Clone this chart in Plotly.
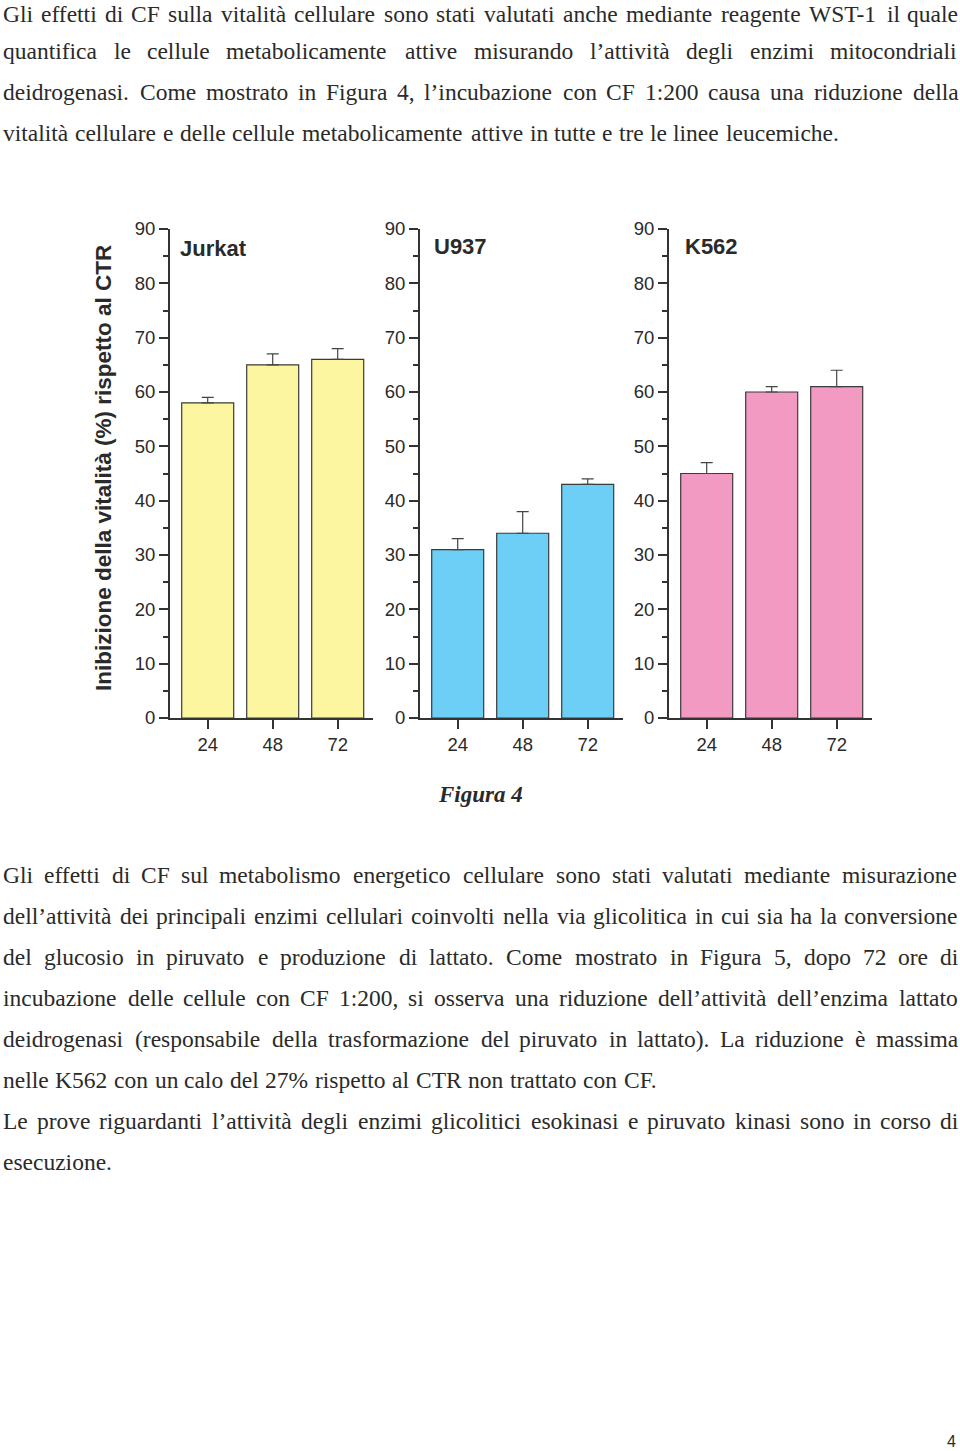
import plotly.graph_objects as go

# ---------------- data ----------------
times = ["24", "48", "72"]
cell_lines = ["Jurkat", "U937", "K562"]
jurkat_vals = [58, 65, 66]
jurkat_err = [1, 2, 2]
u937_vals = [31, 34, 43]
u937_err = [2, 4, 1]
k562_vals = [45, 60, 61]
k562_err = [2, 1, 3]
y_ticks = [0, 10, 20, 30, 40, 50, 60, 70, 80, 90]

para1 = [
    "Gli effetti di CF sulla vitalità cellulare sono stati valutati anche mediante reagente WST-1 il quale",
    "quantifica le cellule metabolicamente attive misurando l’attività degli enzimi mitocondriali",
    "deidrogenasi. Come mostrato in Figura 4, l’incubazione con CF 1:200 causa una riduzione della",
    "vitalità cellulare e delle cellule metabolicamente attive in tutte e tre le linee leucemiche.",
]
para1_justify = [True, True, True, False]
para2 = [
    "Gli effetti di CF sul metabolismo energetico cellulare sono stati valutati mediante misurazione",
    "dell’attività dei principali enzimi cellulari coinvolti nella via glicolitica in cui sia ha la conversione",
    "del glucosio in piruvato e produzione di lattato. Come mostrato in Figura 5, dopo 72 ore di",
    "incubazione delle cellule con CF 1:200, si osserva una riduzione dell’attività dell’enzima lattato",
    "deidrogenasi (responsabile della trasformazione del piruvato in lattato). La riduzione è massima",
    "nelle K562 con un calo del 27% rispetto al CTR non trattato con CF.",
    "Le prove riguardanti l’attività degli enzimi glicolitici esokinasi e piruvato kinasi sono in corso di",
    "esecuzione.",
]
para2_justify = [True, True, True, True, True, False, True, False]

# ---------------- page geometry ----------------
W, H = 960, 1451
def px(x):
    return x / W
def py(y):
    return 1 - y / H

fill_colors = ["#FDF6A0", "#6DCFF5", "#F39AC2"]
edge = "#3a3a3a"
axis_col = "#333333"
text_col = "#2a2a2a"
sans = "Liberation Sans, Arial, Helvetica, sans-serif"
serif = "Liberation Serif, Times New Roman, Times, serif"

fig = go.Figure()

series = [(jurkat_vals, jurkat_err), (u937_vals, u937_err), (k562_vals, k562_err)]
panel_left = [170, 420, 669]
xr = [-0.58, 2.55]
unit = 65.0
y_top, y_bot = 229, 718

for i, (vals, errs) in enumerate(series):
    suffix = "" if i == 0 else str(i + 1)
    fig.add_trace(go.Bar(
        x=[0, 1, 2], y=vals, width=0.8,
        marker=dict(color=fill_colors[i], line=dict(color=edge, width=1.2)),
        error_y=dict(type="data", array=errs, arrayminus=[0, 0, 0], symmetric=False,
                     color="#444444", thickness=1.2, width=6),
        xaxis="x" + suffix, yaxis="y" + suffix, showlegend=False,
        name=cell_lines[i],
    ))
    left = panel_left[i]
    right = left + (xr[1] - xr[0]) * unit
    xa = dict(
        domain=[px(left), px(right)], range=xr, anchor="y" + suffix,
        tickmode="array", tickvals=[0, 1, 2], ticktext=times,
        ticks="outside", ticklen=9, tickwidth=1.8, tickcolor=axis_col,
        showline=True, linecolor=axis_col, linewidth=2,
        showgrid=False, zeroline=False, automargin=False,
        tickfont=dict(family=sans, size=18.5, color=text_col),
    )
    ya = dict(
        domain=[py(y_bot), py(y_top)], range=[0, 90], anchor="x" + suffix,
        tickmode="array", tickvals=y_ticks,
        ticks="outside", ticklen=9, tickwidth=1.8, tickcolor=axis_col,
        minor=dict(dtick=5, tick0=0, ticks="outside", ticklen=5, tickwidth=1.5, tickcolor=axis_col),
        showline=True, linecolor=axis_col, linewidth=2,
        showgrid=False, zeroline=False, automargin=False,
        tickfont=dict(family=sans, size=18.5, color=text_col),
    )
    fig.layout["xaxis" + suffix] = xa
    fig.layout["yaxis" + suffix] = ya

annotations = []
# panel titles
title_pos = [(178, 249), (432, 246), (683, 246)]
for name, (tx, ty) in zip(cell_lines, title_pos):
    annotations.append(dict(text="<b>%s</b>" % name, x=px(tx), y=py(ty), xref="paper", yref="paper",
                            xanchor="left", yanchor="middle", showarrow=False,
                            font=dict(family=sans, size=22, color=text_col)))
# y axis title
annotations.append(dict(text="<b>Inibizione della vitalità (%) rispetto al CTR</b>",
                        x=px(103), y=py(468), xref="paper", yref="paper", textangle=-90,
                        xanchor="center", yanchor="middle", showarrow=False,
                        font=dict(family=sans, size=22.5, color=text_col)))
# figure caption
annotations.append(dict(text="<b><i>Figura 4</i></b>", x=px(480), y=py(794), xref="paper", yref="paper",
                        xanchor="center", yanchor="middle", showarrow=False,
                        font=dict(family=serif, size=23, color=text_col)))
# page number
annotations.append(dict(text="4", x=px(951), y=py(1441.5), xref="paper", yref="paper",
                        xanchor="center", yanchor="middle", showarrow=False, borderpad=0,
                        font=dict(family=sans, size=16, color=text_col)))

# ---------------- body text (justified, word by word) ----------------
TW = {
    'a': 444, 'b': 500, 'c': 444, 'd': 500, 'e': 444, 'f': 333, 'g': 500, 'h': 500, 'i': 278,
    'j': 278, 'k': 500, 'l': 278, 'm': 778, 'n': 500, 'o': 500, 'p': 500, 'q': 500, 'r': 333,
    's': 389, 't': 278, 'u': 500, 'v': 500, 'w': 722, 'x': 500, 'y': 500, 'z': 444,
    'A': 722, 'B': 667, 'C': 667, 'D': 722, 'E': 611, 'F': 556, 'G': 722, 'H': 722, 'I': 333,
    'J': 389, 'K': 722, 'L': 611, 'M': 889, 'N': 722, 'O': 722, 'P': 556, 'Q': 722, 'R': 667,
    'S': 556, 'T': 611, 'U': 722, 'V': 722, 'W': 944, 'X': 722, 'Y': 722, 'Z': 611,
    ' ': 250, ',': 250, '.': 250, ':': 278, '-': 333, '’': 333, '(': 333, ')': 333, '%': 833,
    'è': 444, 'à': 444, 'é': 444, 'ò': 500, 'ù': 500, 'ì': 278,
}
for d in "0123456789":
    TW[d] = 500

def wwidth(s, size):
    return sum(TW.get(c, 500) for c in s) / 1000.0 * size

REF = 23.85   # horizontal em size of the page text
FS = 23.5     # rendered font size
LEFT, RIGHT = 2, 958

def add_lines(lines, justify, centers):
    for line, just, yc in zip(lines, justify, centers):
        words = line.split(" ")
        widths = [wwidth(w, REF) for w in words]
        if just and len(words) > 1:
            gap = (RIGHT - LEFT - sum(widths)) / (len(words) - 1)
        else:
            gap = wwidth(" ", REF)
        x = LEFT
        for w, wd in zip(words, widths):
            annotations.append(dict(text=w, x=px(x), y=py(yc), xref="paper", yref="paper",
                                    xanchor="left", yanchor="middle", showarrow=False,
                                    borderpad=0,
                                    font=dict(family=serif, size=FS, color=text_col)))
            x += wd + gap

add_lines(para1, para1_justify, [13.5, 51.5, 92, 133])
add_lines(para2, para2_justify, [875 + 41 * k for k in range(len(para2))])

fig.update_layout(
    width=W, height=H, margin=dict(l=0, r=0, t=0, b=0, pad=0, autoexpand=False),
    paper_bgcolor="white", plot_bgcolor="white",
    annotations=annotations, bargap=0.2,
)

post = (
    "var de=document.documentElement, b=document.body;"
    "de.style.margin='0';de.style.padding='0';de.style.overflow='hidden';"
    "b.style.margin='0';b.style.padding='0';b.style.overflow='hidden';"
)
fig.write_html("out.html", config={"displayModeBar": False}, post_script=post)
